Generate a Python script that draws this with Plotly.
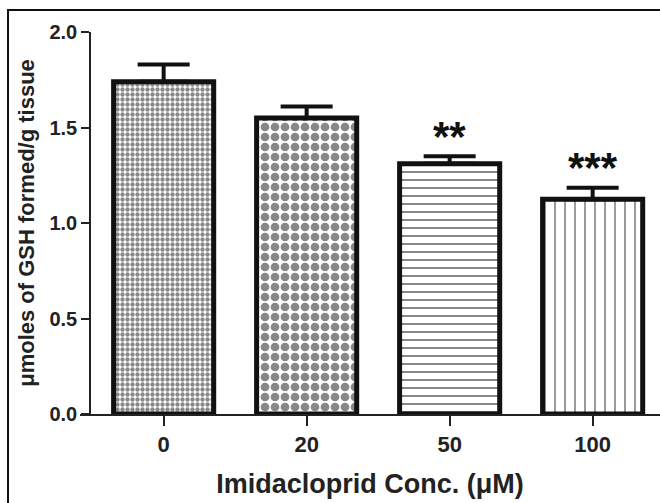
import plotly.graph_objects as go

categories = ["0", "20", "50", "100"]
means = [1.74, 1.55, 1.31, 1.125]
sems = [0.09, 0.06, 0.04, 0.06]
stars = ["", "", "**", "***"]
tick_vals = [0.0, 0.5, 1.0, 1.5, 2.0]
tick_text = ["0.0", "0.5", "1.0", "1.5", "2.0"]

shapes_ = [".", ".", "-", "|"]
sizes_ = [5, 10, 8, 10]
solid_ = [0.6, 0.6, 0.25, 0.17]

fig = go.Figure()
fig.add_trace(go.Bar(
    x=categories, y=means,
    marker=dict(
        color="white",
        line=dict(color="#111", width=5),
        pattern=dict(shape=shapes_, size=sizes_, solidity=solid_,
                     fgcolor="#111", bgcolor="white", fillmode="overlay"),
    ),
    error_y=dict(type="data", array=sems, arrayminus=[0] * 4, symmetric=False,
                 color="#111", thickness=4, width=26),
    width=0.7,
    showlegend=False,
))

for i, (m, s, st) in enumerate(zip(means, sems, stars)):
    if st:
        fig.add_annotation(x=i, y=m + s, text="<b>" + st + "</b>", showarrow=False,
                           yanchor="middle", yshift=20,
                           font=dict(size=42, family="Liberation Sans", color="#111"))

fig.update_layout(
    width=660, height=503,
    margin=dict(l=80, r=0, t=32, b=89),
    paper_bgcolor="white", plot_bgcolor="white",
    font=dict(family="Liberation Sans", color="#222"),
    xaxis=dict(
        type="category",
        range=[-0.585, 3.471], showline=True, linecolor="#222", linewidth=1.5,
        ticks="outside", ticklen=10, tickwidth=1.5, tickcolor="#222",
        tickvals=categories, ticktext=["<b>" + c + "</b>" for c in categories],
        tickfont=dict(size=22, family="Liberation Sans", color="#222"),
        showgrid=False, zeroline=False, automargin=False,
        title=dict(text="<b>Imidacloprid Conc. (\u03bcM)</b>",
                   font=dict(size=27, family="Liberation Sans", color="#222"), standoff=18),
    ),
    yaxis=dict(
        range=[0, 2.0], anchor="free", position=10 / 580,
        tickvals=tick_vals, ticktext=["<b>" + t + "</b>" for t in tick_text],
        showline=True, linecolor="#222", linewidth=1.5,
        ticks="outside", ticklen=8, tickwidth=1.5, tickcolor="#222",
        tickfont=dict(size=20, family="Liberation Sans", color="#222"),
        showgrid=False, zeroline=False, automargin=False,
        title=dict(text="<b>\u03bcmoles of GSH formed/g tissue</b>",
                   font=dict(size=22, family="Liberation Sans", color="#222"), standoff=8),
    ),
    shapes=[dict(type="rect", xref="paper", yref="paper",
                 x0=-0.1241, x1=1.02, y0=-0.3, y1=1.0576,
                 line=dict(color="#111", width=2))],
)

fig.write_html("out.html")
